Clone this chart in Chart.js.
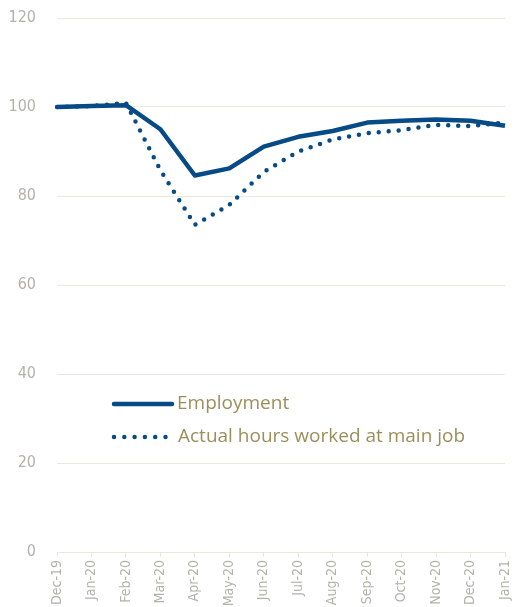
<!DOCTYPE html>
<html>
<head>
<meta charset="utf-8">
<script src="https://cdn.jsdelivr.net/npm/chart.js@4"></script>
<style>
  body { margin: 0; background: #fff; }
  #wrap { width: 515px; height: 607px; }
</style>
</head>
<body>
<div id="wrap"><canvas id="chart" width="515" height="607"></canvas></div>
<script>
// Datos
const meses = ['Dec-19', 'Jan-20', 'Feb-20', 'Mar-20', 'Apr-20', 'May-20', 'Jun-20',
  'Jul-20', 'Aug-20', 'Sep-20', 'Oct-20', 'Nov-20', 'Dec-20', 'Jan-21'];
const empleo = [100, 100.2, 100.4, 95.0, 84.6, 86.2, 91.1, 93.3, 94.6, 96.5, 96.9, 97.2, 96.9, 95.8];
const horas = [100, 100.2, 100.9, 85.8, 73.5, 78.0, 85.4, 90.0, 92.7, 94.1, 94.8, 96.0, 95.7, 96.5];
const ticksY = [0, 20, 40, 60, 80, 100, 120];
const nombres = ['Employment', 'Actual hours worked at main job'];

const azul = '#064b86';
const gris = '#b3b2aa';
const rejilla = '#ebe8de';
const fuenteEje = "'Liberation Sans Narrow', 'DejaVu Sans Condensed', sans-serif";

// Leyenda dibujada dentro del área del gráfico
const leyenda = {
  id: 'leyenda',
  afterDraw(chart) {
    const ctx = chart.ctx;
    const a = chart.chartArea;
    const x0 = a.left + 57, x1 = a.left + 115;
    const filas = [a.top + 386, a.top + 419];
    ctx.save();
    ctx.strokeStyle = azul;
    ctx.lineWidth = 4.5;
    ctx.lineCap = 'round';
    ctx.beginPath();
    ctx.moveTo(x0, filas[0]);
    ctx.lineTo(x1, filas[0]);
    ctx.stroke();
    ctx.setLineDash([0, 10.3]);
    ctx.beginPath();
    ctx.moveTo(x0, filas[1]);
    ctx.lineTo(x1 - 3, filas[1]);
    ctx.stroke();
    ctx.setLineDash([]);
    ctx.fillStyle = '#9c8f5c';
    ctx.font = "19px 'Open Sans'";
    ctx.textBaseline = 'middle';
    ctx.fillText(nombres[0], x1 + 5, filas[0]);
    ctx.fillText(nombres[1], x1 + 6, filas[1]);
    ctx.restore();
  }
};

new Chart(document.getElementById('chart').getContext('2d'), {
  type: 'line',
  data: {
    labels: meses,
    datasets: [
      { label: nombres[0], data: empleo, borderColor: azul, borderWidth: 4.5,
        pointRadius: 0, tension: 0, fill: false, borderJoinStyle: 'round' },
      { label: nombres[1], data: horas, borderColor: azul, borderWidth: 4.5,
        borderDash: [0, 10], borderCapStyle: 'round',
        pointRadius: 0, tension: 0, fill: false }
    ]
  },
  options: {
    responsive: false,
    animation: false,
    layout: { padding: { top: 18, right: 10, left: 0, bottom: 0 } },
    plugins: { legend: { display: false }, tooltip: { enabled: false } },
    scales: {
      x: {
        offset: false,
        afterFit(s) { s.height = 55; s.paddingLeft = 0; s.paddingRight = 0; },
        grid: { drawOnChartArea: false, drawTicks: true, tickLength: 5, color: rejilla },
        border: { display: true, color: rejilla },
        ticks: { autoSkip: false, maxRotation: 90, minRotation: 90, padding: 3,
          color: gris, font: { family: fuenteEje, size: 14 } }
      },
      y: {
        min: 0, max: 120,
        afterFit(s) { s.width = 57; s.paddingTop = 0; s.paddingBottom = 0; },
        afterBuildTicks(s) { s.ticks = ticksY.map(v => ({ value: v })); },
        grid: { color: rejilla, drawTicks: false },
        border: { display: false },
        ticks: { padding: 21, color: gris, font: { family: fuenteEje, size: 16 } }
      }
    }
  },
  plugins: [leyenda]
});
</script>
</body>
</html>
